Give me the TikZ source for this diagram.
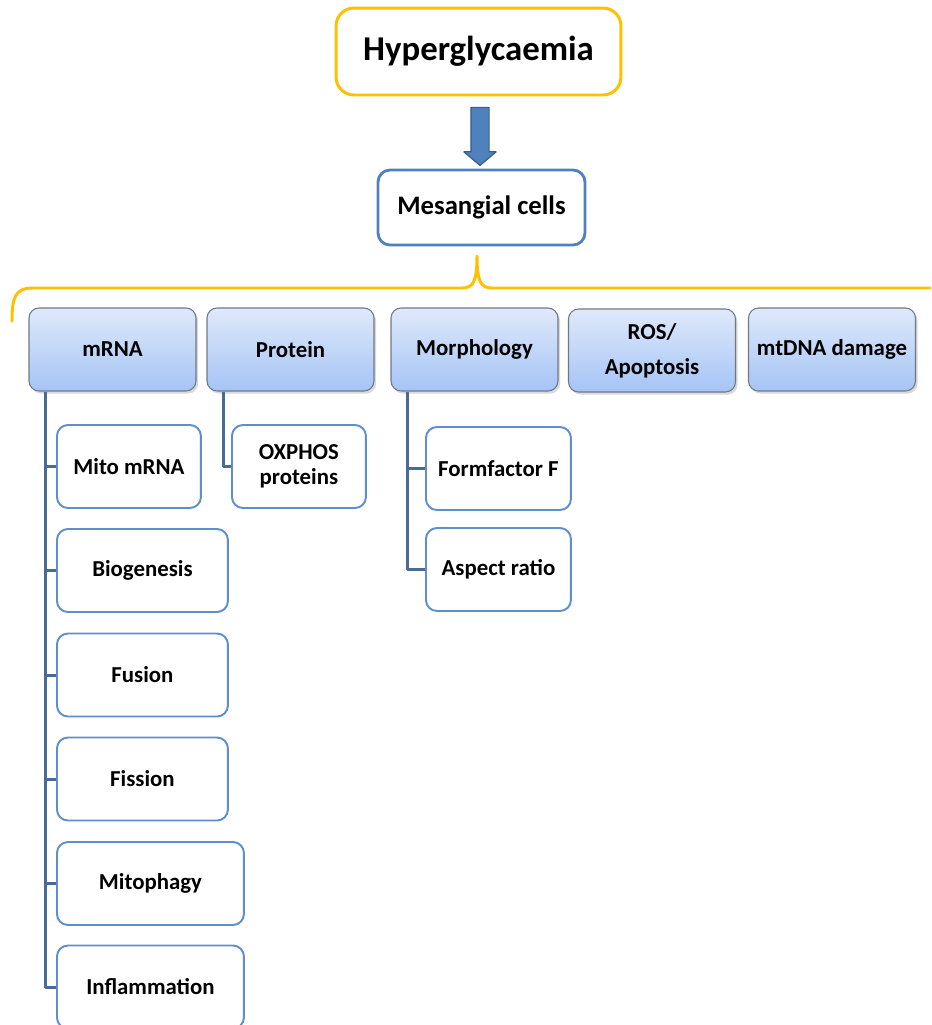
\documentclass[tikz,border=0pt]{standalone}
\usepackage{fontspec}
\setmainfont{Carlito}
\usetikzlibrary{shapes.arrows,shadows,calc}

\definecolor{hypyellow}{RGB}{255,192,0}
\definecolor{cellblue}{RGB}{79,129,189}
\definecolor{arrowedge}{RGB}{56,93,138}
\definecolor{linkblue}{RGB}{74,106,152}
\definecolor{itemedge}{RGB}{94,142,206}
\definecolor{headedge}{RGB}{112,120,134}
\definecolor{headtop}{RGB}{223,233,250}
\definecolor{headbot}{RGB}{165,196,246}

\begin{document}
\begin{tikzpicture}[
			x=0.02cm, y=-0.02cm,
			every node/.style={font=\bfseries\fontsize{13}{15.5}\selectfont, align=center, inner sep=0pt},
			line cap=round,
			line join=round,
			topbox/.style={draw=hypyellow, line width=1.7pt, rounded corners=0.36cm, fill=white,
				minimum width=5.7cm, minimum height=1.74cm, font=\bfseries\fontsize{19.8}{23}\selectfont},
			cellbox/.style={draw=cellblue, line width=1.6pt, rounded corners=0.24cm, fill=white,
				minimum width=4.14cm, minimum height=1.5cm, font=\bfseries\fontsize{15.2}{18}\selectfont},
			headbox/.style={draw=headedge, line width=0.6pt, rounded corners=0.2cm,
				top color=headtop, bottom color=headbot,
				drop shadow={shadow xshift=1.2pt, shadow yshift=-1.5pt, opacity=0.3},
				minimum width=3.34cm, minimum height=1.66cm},
			itembox/.style={draw=itemedge, line width=1.1pt, rounded corners=0.22cm, fill=white,
				minimum height=1.66cm},
			blockarrow/.style={single arrow, draw=arrowedge, fill=cellblue, line width=0.7pt,
				rotate=-90, minimum height=1.16cm, inner sep=0.17cm,
				single arrow head extend=0.14cm, single arrow tip angle=100},
			brace/.style={draw=hypyellow, line width=1.7pt},
			link/.style={draw=linkblue, line width=1.7pt, line cap=butt}
			]
			\clip (0,0) rectangle (931,1025);
			
			% top of the chain
			\node[topbox] (hyp) at (478.5,51.5) {Hyperglycaemia};
			\node[cellbox] (mes) at (481.5,207.5) {Mesangial cells};
			\node[blockarrow] (arr) at ($(hyp.south)!0.5!(mes.north)$) {};
			
			% brace over the five groups
			\coordinate (bt) at (477,256);
			\draw[brace] (12,321) .. controls (12,298) and (15,288) .. (32,288) -- (462,288)
				.. controls (473,288) and (477,282) .. (bt)
				.. controls (477,282) and (481,288) .. (492,288) -- (960,288);
			
			% group headers
			\node[headbox] (mrna) at (112.5,349.5) {mRNA};
			\node[headbox] (prot) at (290.5,349.5) {Protein};
			\node[headbox] (morph) at (474.5,349.5) {Morphology};
			\node[headbox, font=\bfseries\fontsize{13}{20}\selectfont] (ros) at (652,350.5) {ROS/\\Apoptosis};
			\node[headbox] (mtdna) at (832,349.5) {mtDNA damage};
			
			% mRNA column
			\foreach \name/\y/\w/\txt in {mito/466.5/2.88/Mito mRNA, bio/570.5/3.42/Biogenesis,
				fus/675/3.42/Fusion, fis/779/3.42/Fission, mitoph/883.5/3.74/Mitophagy,
				infl/987/3.74/Inflammation}
			{
				\node[itembox, minimum width=\w cm, anchor=west] (\name) at (56,\y) {\txt};
			}
			\coordinate (mtrunk) at ([xshift=0.34cm]mrna.south west);
			\draw[link] (mtrunk) |- (infl.west);
			\foreach \c in {mito,bio,fus,fis,mitoph}
				\draw[link] (mtrunk |- \c.west) -- (\c.west);
			
			% protein column
			\node[itembox, minimum width=2.68cm, anchor=west, font=\bfseries\fontsize{13}{14}\selectfont] (oxphos) at (231,466.5) {OXPHOS\\proteins};
			\draw[link] ([xshift=0.34cm]prot.south west) |- (oxphos.west);
			
			% morphology column
			\node[itembox, minimum width=2.9cm, anchor=west] (form) at (425,468.5) {Formfactor F};
			\node[itembox, minimum width=2.9cm, anchor=west] (aspect) at (425,569.5) {Aspect ratio};
			\coordinate (gtrunk) at ([xshift=0.34cm]morph.south west);
			\draw[link] (gtrunk) |- (aspect.west);
			\draw[link] (gtrunk |- form.west) -- (form.west);
		\end{tikzpicture}
\end{document}
